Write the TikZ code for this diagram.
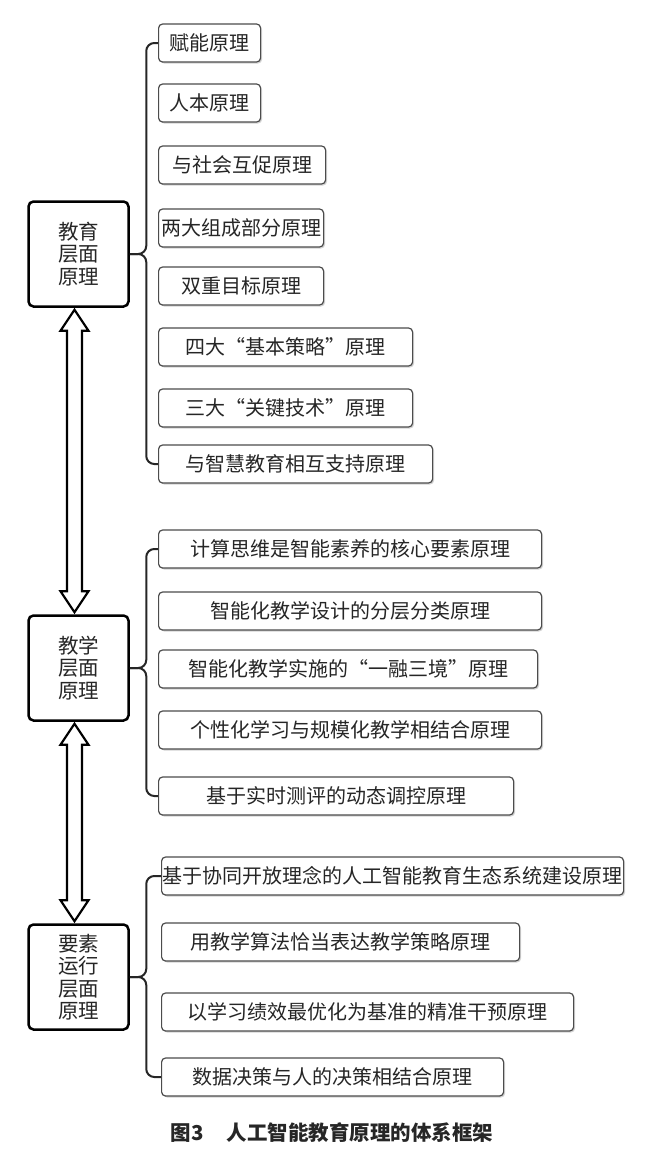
\documentclass[tikz,border=0pt]{standalone}
\usepackage{fontspec}
\newfontfamily\cjk{Noto Sans CJK SC}
\usepackage{tikz}
\usetikzlibrary{calc,shadows}
\tikzset{
  lvl/.style={draw, line width=2.5pt, rounded corners=5pt, fill=white,
    minimum width=100pt, minimum height=105pt, align=center,
    font=\cjk\fontsize{20.5}{22.5}\selectfont, text=black!85},
  leaf/.style={draw=black!70, line width=1.2pt, rounded corners=4pt, fill=white,
    minimum height=38pt, inner sep=1pt, anchor=west, text=black!85,
    font=\cjk\fontsize{20}{24}\selectfont,
    drop shadow={shadow xshift=1.5pt, shadow yshift=-1.5pt, opacity=0.35}},
  brace/.style={draw=black!85, line width=2pt, rounded corners=8pt},
  dbl/.style={draw, line width=2.2pt, fill=white, line join=miter}
}

\begin{document}
\begin{tikzpicture}[x=1pt, y=-1pt]
  \useasboundingbox (0,0) rectangle (664,1168);
  % levels
  \node[lvl] (edu) at (78.5,254) {教育\\层面\\原理};
  \node[lvl] (tch) at (78.5,668) {教学\\层面\\原理};
  \node[lvl] (elm) at (78.5,977) {要素\\运行\\层面\\原理};
  % education principles
  \node[leaf, minimum width=102pt] (e1) at (158,43)  {赋能原理};
  \node[leaf, minimum width=102pt] (e2) at (158,103) {人本原理};
  \node[leaf, minimum width=167pt] (e3) at (158,165) {与社会互促原理};
  \node[leaf, minimum width=165pt] (e4) at (158,228) {两大组成部分原理};
  \node[leaf, minimum width=165pt] (e5) at (158,286) {双重目标原理};
  \node[leaf, minimum width=254pt] (e6) at (158,347) {四大“基本策略”原理};
  \node[leaf, minimum width=254pt] (e7) at (158,408) {三大“关键技术”原理};
  \node[leaf, minimum width=274pt] (e8) at (158,464) {与智慧教育相互支持原理};
  % teaching principles
  \node[leaf, minimum width=383pt] (t1) at (158,549) {计算思维是智能素养的核心要素原理};
  \node[leaf, minimum width=383pt] (t2) at (158,611) {智能化教学设计的分层分类原理};
  \node[leaf, minimum width=379pt] (t3) at (158,669) {智能化教学实施的“一融三境”原理};
  \node[leaf, minimum width=383pt] (t4) at (158,730) {个性化学习与规模化教学相结合原理};
  \node[leaf, minimum width=355pt] (t5) at (158,796) {基于实时测评的动态调控原理};
  % element principles
  \node[leaf, minimum width=462pt] (r1) at (161,876)  {基于协同开放理念的人工智能教育生态系统建设原理};
  \node[leaf, minimum width=358pt] (r2) at (161,942)  {用教学算法恰当表达教学策略原理};
  \node[leaf, minimum width=412pt] (r3) at (161,1012) {以学习绩效最优化为基准的精准干预原理};
  \node[leaf, minimum width=342pt] (r4) at (161,1077) {数据决策与人的决策相结合原理};
  % braces
  \draw[brace] (edu.east) -- ++(16.5,0) |- (e1.west);
  \draw[brace] (edu.east) -- ++(16.5,0) |- (e8.west);
  \draw[brace] (tch.east) -- ++(16.5,0) |- (t1.west);
  \draw[brace] (tch.east) -- ++(16.5,0) |- (t5.west);
  \draw[brace] (elm.east) -- ++(16.5,0) |- (r1.west);
  \draw[brace] (elm.east) -- ++(16.5,0) |- (r4.west);
  % double arrows
  \coordinate (a1) at ($(edu.south)+(-4,2)$);
  \coordinate (b1) at ($(tch.north)+(-4,-2)$);
  \draw[dbl] (a1) -- ++(14,21) -- ++(-6.5,0) -- ($(b1)+(7.5,-21)$) -- ++(6.5,0)
    -- (b1) -- ++(-14,-21) -- ++(6.5,0) -- ($(a1)+(-7.5,21)$) -- ++(-6.5,0) -- cycle;
  \coordinate (a2) at ($(tch.south)+(-4,2)$);
  \coordinate (b2) at ($(elm.north)+(-4,-2)$);
  \draw[dbl] (a2) -- ++(14,21) -- ++(-6.5,0) -- ($(b2)+(7.5,-21)$) -- ++(6.5,0)
    -- (b2) -- ++(-14,-21) -- ++(6.5,0) -- ($(a2)+(-7.5,21)$) -- ++(-6.5,0) -- cycle;
  % caption
  \node[font=\cjk\bfseries\fontsize{20.5}{22}\selectfont, text=black!85] (cap) at (332,1133)
    {图3\hspace{1.1em}人工智能教育原理的体系框架};
\end{tikzpicture}
\end{document}
